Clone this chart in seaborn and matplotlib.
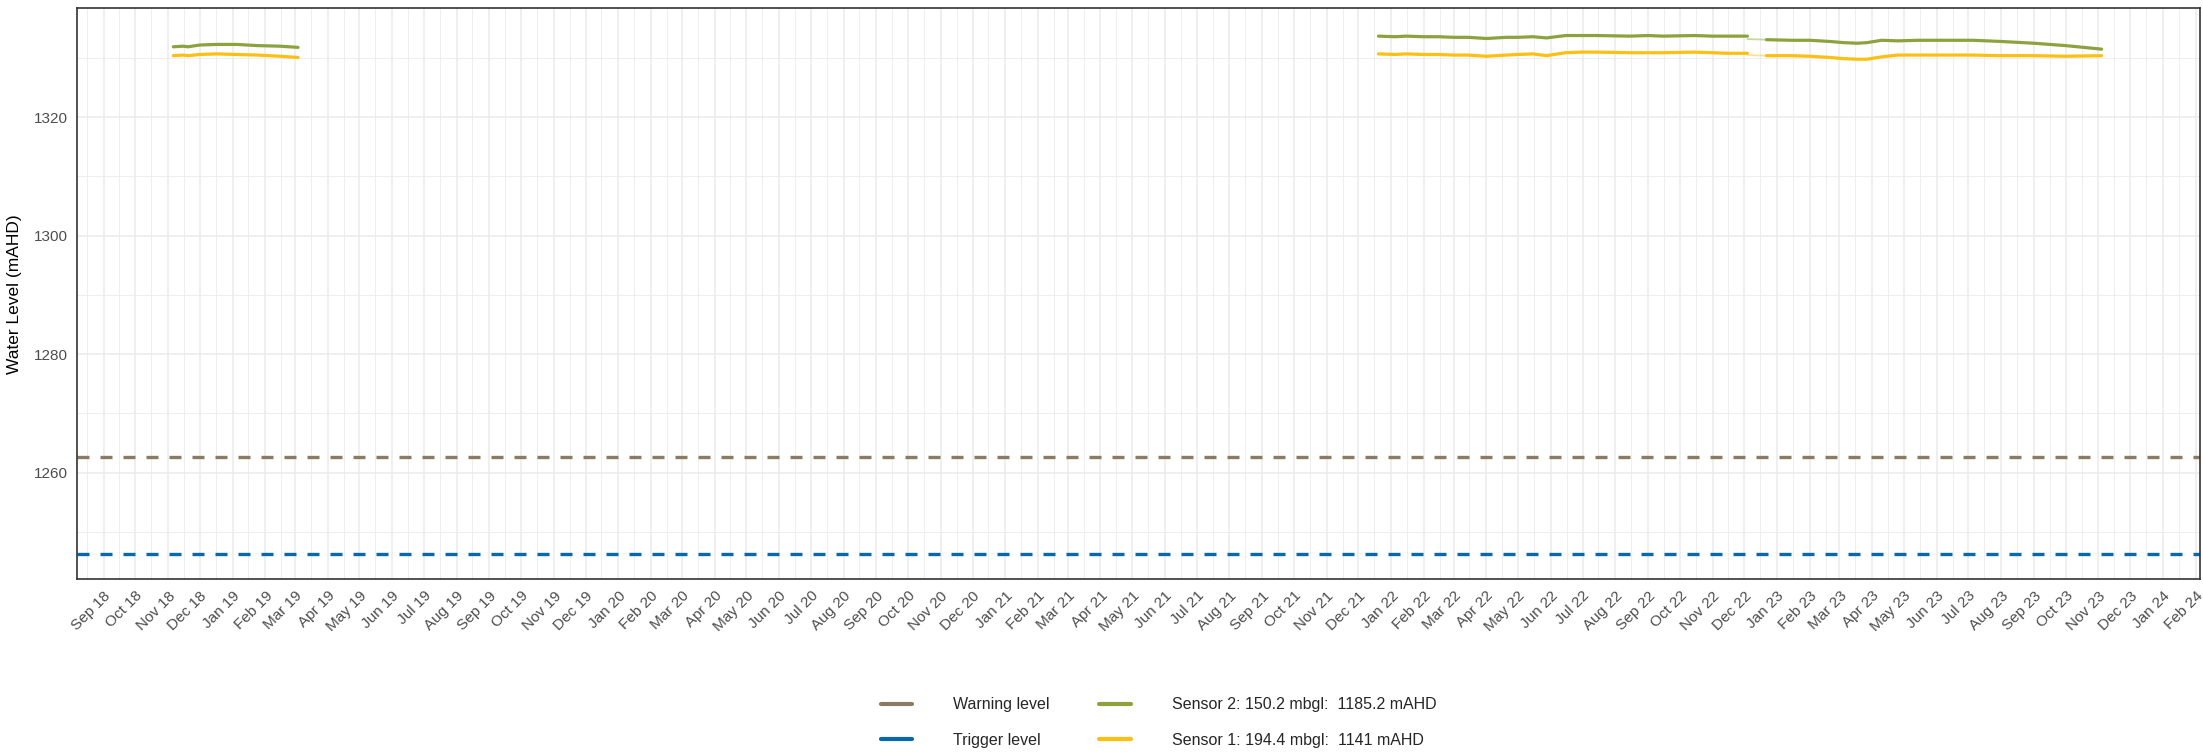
import numpy as np
import pandas as pd
import matplotlib
matplotlib.use("Agg")
import matplotlib.pyplot as plt
import matplotlib.dates as mdates
from matplotlib.lines import Line2D
import seaborn as sns

# ---------------- data ----------------
early_dates = ["2018-11-06", "2018-11-15", "2018-11-20", "2018-12-01", "2018-12-17",
               "2019-01-05", "2019-01-25", "2019-02-15", "2019-03-04"]
early_sensor2 = [1331.9, 1332.0, 1331.9, 1332.2, 1332.3, 1332.3, 1332.1, 1332.0, 1331.8]
early_sensor1 = [1330.4, 1330.5, 1330.4, 1330.6, 1330.7, 1330.6, 1330.5, 1330.3, 1330.1]

late_a_dates = ["2021-12-20", "2022-01-05", "2022-01-15", "2022-02-01", "2022-02-15",
                "2022-03-01", "2022-03-15", "2022-04-01", "2022-04-20", "2022-05-01",
                "2022-05-15", "2022-05-28", "2022-06-15", "2022-07-01", "2022-07-15",
                "2022-08-15", "2022-09-01", "2022-09-15", "2022-10-15", "2022-11-01",
                "2022-11-15", "2022-12-04"]
late_a_sensor2 = [1333.7, 1333.6, 1333.7, 1333.6, 1333.6, 1333.5, 1333.5, 1333.3,
                  1333.5, 1333.5, 1333.6, 1333.4, 1333.8, 1333.8, 1333.8, 1333.7,
                  1333.8, 1333.7, 1333.8, 1333.7, 1333.7, 1333.7]
late_a_sensor1 = [1330.7, 1330.6, 1330.7, 1330.6, 1330.6, 1330.5, 1330.5, 1330.3,
                  1330.5, 1330.6, 1330.7, 1330.4, 1330.9, 1331.0, 1331.0, 1330.9,
                  1330.9, 1330.9, 1331.0, 1330.9, 1330.8, 1330.8]

gap_dates = ["2022-12-04", "2022-12-22"]
gap_sensor2 = [1333.2, 1333.1]
gap_sensor1 = [1330.5, 1330.4]

late_b_dates = ["2022-12-22", "2023-01-15", "2023-02-01", "2023-02-20", "2023-03-05",
                "2023-03-18", "2023-03-27", "2023-04-10", "2023-04-25", "2023-05-15",
                "2023-06-15", "2023-07-05", "2023-08-01", "2023-09-01", "2023-10-01",
                "2023-11-04"]
late_b_sensor2 = [1333.1, 1333.0, 1333.0, 1332.8, 1332.6, 1332.5, 1332.6, 1333.0,
                  1332.9, 1333.0, 1333.0, 1333.0, 1332.8, 1332.5, 1332.1, 1331.5]
late_b_sensor1 = [1330.4, 1330.4, 1330.3, 1330.1, 1329.9, 1329.8, 1329.8, 1330.2,
                  1330.5, 1330.5, 1330.5, 1330.5, 1330.4, 1330.4, 1330.3, 1330.4]

warning_level = 1262.6
trigger_level = 1246.3

labels = ["Warning level", "Trigger level",
          "Sensor 2: 150.2 mbgl:  1185.2 mAHD", "Sensor 1: 194.4 mbgl:  1141 mAHD"]
colors = {"warning": "#8C7B62", "trigger": "#0868AC",
          "sensor2": "#8CA23C", "sensor1": "#FDBF10"}

# ---------------- styling ----------------
sns.set_theme(style="white")
plt.rcParams["font.family"] = ["Liberation Sans", "DejaVu Sans"]

fig = plt.figure(figsize=(22.03, 7.55), dpi=100)
ax = fig.add_axes([0.035, 0.233, 0.9636, 0.756])

def seg(dates, values, color, lw=2.3, alpha=1.0):
    df = pd.DataFrame({"date": pd.to_datetime(dates), "value": values})
    sns.lineplot(data=df, x="date", y="value", ax=ax, color=color,
                 linewidth=lw, alpha=alpha, legend=False)

for d, s2, s1 in [(early_dates, early_sensor2, early_sensor1),
                  (late_a_dates, late_a_sensor2, late_a_sensor1),
                  (late_b_dates, late_b_sensor2, late_b_sensor1)]:
    seg(d, s2, colors["sensor2"])
    seg(d, s1, colors["sensor1"])
seg(gap_dates, gap_sensor2, colors["sensor2"], lw=1.3, alpha=0.45)
seg(gap_dates, gap_sensor1, colors["sensor1"], lw=1.3, alpha=0.45)

ax.axhline(warning_level, color=colors["warning"], linewidth=2.4, dashes=(3.6, 3.3))
ax.axhline(trigger_level, color=colors["trigger"], linewidth=2.4, dashes=(3.6, 3.3))

ax.set_xlim(pd.Timestamp("2018-08-07"), pd.Timestamp("2024-02-05"))
ax.set_ylim(1242.0, 1338.4)
ax.set_yticks([1260, 1280, 1300, 1320])
ax.set_yticks([1250, 1270, 1290, 1310, 1330], minor=True)

ax.xaxis.set_major_locator(mdates.MonthLocator())
ax.xaxis.set_major_formatter(mdates.DateFormatter("%b %y"))
ax.xaxis.set_minor_locator(mdates.MonthLocator(bymonthday=16))

ax.grid(True, which="major", color="#EBEBEB", linewidth=1.1)
ax.grid(True, which="minor", color="#EBEBEB", linewidth=0.6)
ax.set_axisbelow(True)

ax.tick_params(axis="both", which="major", length=4, width=1.0, color="#333333",
               labelsize=11, labelcolor="#4D4D4D", pad=3)
ax.tick_params(axis="both", which="minor", length=0)
for lab in ax.get_xticklabels():
    lab.set_rotation(45)
    lab.set_ha("right")
    lab.set_rotation_mode("anchor")

for sp in ax.spines.values():
    sp.set_color("#333333")
    sp.set_linewidth(1.2)

ax.set_xlabel("")
ax.set_ylabel("Water Level (mAHD)", fontsize=12.5, color="black", labelpad=8)

handles = [Line2D([], [], color=colors["warning"], linewidth=3),
           Line2D([], [], color=colors["trigger"], linewidth=3),
           Line2D([], [], color=colors["sensor2"], linewidth=3),
           Line2D([], [], color=colors["sensor1"], linewidth=3)]
fig.legend(handles, labels, ncol=2, loc="center", bbox_to_anchor=(0.526, 0.043),
           frameon=False, fontsize=11.5, handlelength=1.95, handletextpad=2.6,
           columnspacing=3.1, labelspacing=1.3)

fig.savefig("out.png", dpi=100)
